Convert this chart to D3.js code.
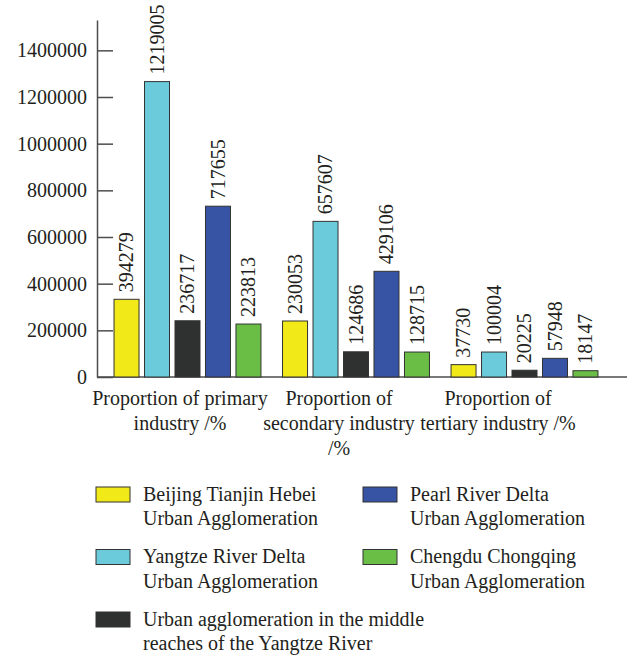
<!DOCTYPE html>
<html>
<head>
<meta charset="utf-8">
<script src="https://cdn.jsdelivr.net/npm/d3@7"></script>
<style>
  body { margin: 0; background: #fff; }
  svg { display: block; font-family: "Liberation Serif", "Times New Roman", serif; }
  .axis text { font-size: 20px; fill: #231f20; font-family: "Liberation Serif", serif; }
  .axis path, .axis line { stroke: #4d4d4d; stroke-width: 1.5; }
</style>
</head>
<body>
<div id="main"></div>
<script>

// data

const categories = ['primary', 'secondary', 'tertiary'];

const categoryLines = [
    ['Proportion of primary', 'industry /%'],
    ['Proportion of', 'secondary industry', '/%'],
    ['Proportion of', 'tertiary industry /%']
];

const seriesNames = ['bth', 'yrd', 'mid', 'prd', 'cc'];

const seriesLines = [
    ['Beijing Tianjin Hebei', 'Urban Agglomeration'],
    ['Yangtze River Delta', 'Urban Agglomeration'],
    ['Urban agglomeration in the middle', 'reaches of the Yangtze River'],
    ['Pearl River Delta', 'Urban Agglomeration'],
    ['Chengdu Chongqing', 'Urban Agglomeration']
];

const seriesColors = ['#f2e919', '#6bcbdb', '#2f3130', '#3753a3', '#6abd45'];

// bar heights as drawn in the picture
const barValues = [
    [333000, 1266000, 241000, 732000, 227000],
    [240000, 667000, 108000, 453000, 107000],
    [53000, 107000, 29000, 80000, 27000]
];

// numbers printed over the bars
const barLabels = [
    ['394279', '1219005', '236717', '717655', '223813'],
    ['230053', '657607', '124686', '429106', '128715'],
    ['37730', '100004', '20225', '57948', '18147']
];

const yTicks = [0, 200000, 400000, 600000, 800000, 1000000, 1200000, 1400000];

const w = 637;
const h = 659;

// svg

const svg = d3.select('#main').append('svg').attr('width', w).attr('height', h);

svg.append('rect').attr('width', w).attr('height', h).attr('fill', '#fff');

// scales

const y = d3.scaleLinear().domain([0, 1530000]).range([377, 20]);

const x0 = d3.scaleBand()
    .domain(categories)
    .range([105.6, 606.4])
    .paddingInner(0.128)
    .paddingOuter(0.05);

const x1 = d3.scaleBand()
    .domain(seriesNames)
    .range([0, x0.bandwidth()])
    .paddingInner(0.18);

const color = d3.scaleOrdinal().domain(seriesNames).range(seriesColors);

// labels under the groups sit a bit left of the groups
const xLabel = d3.scalePoint().domain(categories).range([180, 498]);

// axes

const yAxis = d3.axisLeft(y)
    .tickValues(yTicks)
    .tickSize(-16)
    .tickPadding(10)
    .tickSizeOuter(0)
    .tickFormat(d3.format('d'));

svg.append('g')
    .attr('class', 'axis y-axis')
    .attr('transform', 'translate(97,0)')
    .call(yAxis);

svg.append('line')
    .attr('class', 'x-axis')
    .attr('x1', 97)
    .attr('x2', 627)
    .attr('y1', y(0))
    .attr('y2', y(0))
    .attr('stroke', '#4d4d4d')
    .attr('stroke-width', 1.5);

// bars

const groups = svg.append('g')
    .attr('class', 'bars')
    .selectAll('g')
    .data(categories)
    .enter()
    .append('g')
    .attr('transform', d => 'translate(' + x0(d) + ',0)');

groups.selectAll('rect')
    .data((d, i) => seriesNames.map((s, j) => ({ s: s, v: barValues[i][j], label: barLabels[i][j] })))
    .enter()
    .append('rect')
    .attr('x', d => x1(d.s))
    .attr('y', d => y(d.v))
    .attr('width', x1.bandwidth())
    .attr('height', d => y(0) - y(d.v))
    .attr('fill', d => color(d.s))
    .attr('stroke', '#333')
    .attr('stroke-width', 1);

groups.selectAll('text')
    .data((d, i) => seriesNames.map((s, j) => ({ s: s, v: barValues[i][j], label: barLabels[i][j] })))
    .enter()
    .append('text')
    .attr('transform', d => 'translate(' + (x1(d.s) + x1.bandwidth() / 2) + ',' + (y(d.v) - 7) + ') rotate(-90)')
    .attr('dy', '0.33em')
    .attr('text-anchor', 'start')
    .attr('font-size', 20)
    .attr('fill', '#231f20')
    .text(d => d.label);

// category labels

const catText = svg.append('g')
    .attr('class', 'cat-labels')
    .selectAll('text')
    .data(categories)
    .enter()
    .append('text')
    .attr('x', d => xLabel(d))
    .attr('y', 405)
    .attr('text-anchor', 'middle')
    .attr('font-size', 20)
    .attr('fill', '#231f20');

catText.selectAll('tspan')
    .data((d, i) => categoryLines[i])
    .enter()
    .append('tspan')
    .attr('x', function () { return this.parentNode.getAttribute('x'); })
    .attr('dy', (d, i) => i === 0 ? 0 : 25)
    .text(d => d);

// legend

const legendPos = [[96, 0], [96, 1], [96, 2], [363, 0], [363, 1]];

const legend = svg.append('g')
    .attr('class', 'legend')
    .selectAll('g')
    .data(seriesNames)
    .enter()
    .append('g')
    .attr('transform', (d, i) => 'translate(' + legendPos[i][0] + ',' + (487 + legendPos[i][1] * 62.5) + ')');

legend.append('rect')
    .attr('width', 34)
    .attr('height', 15)
    .attr('fill', d => color(d))
    .attr('stroke', '#333')
    .attr('stroke-width', 1);

legend.append('text')
    .attr('x', 47)
    .attr('y', 13.5)
    .attr('font-size', 20)
    .attr('fill', '#231f20')
    .selectAll('tspan')
    .data((d, i) => seriesLines[i])
    .enter()
    .append('tspan')
    .attr('x', 47)
    .attr('dy', (d, i) => i === 0 ? 0 : 24.5)
    .text(d => d);

</script>
</body>
</html>
